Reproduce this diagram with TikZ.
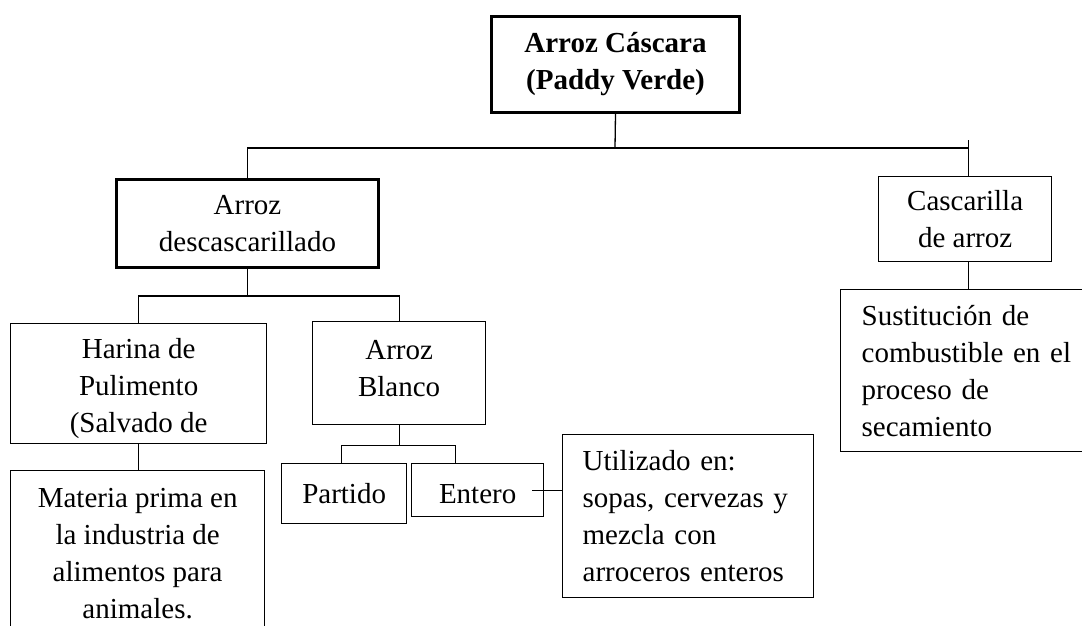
\documentclass[tikz,border=0pt]{standalone}
\usepackage{fontspec}
\setmainfont{Liberation Serif}
\usetikzlibrary{positioning,calc}

\begin{document}
\begin{tikzpicture}[x=1pt, y=-1pt, line width=1.3pt]
            \tikzstyle{caja}=[draw, line width=1.3pt, inner sep=0pt, anchor=north west, align=center, font=\fontsize{29}{37}\selectfont]
            \tikzstyle{gruesa}=[caja, line width=3pt]
            \tikzstyle{izq}=[caja, align=left, inner xsep=21pt]

            \useasboundingbox (0,0) rectangle (1082,625);
            \clip (0,0) rectangle (1082,625);

            % Cajas
            \node[gruesa, minimum width=248pt, minimum height=96pt, font=\fontsize{29}{37}\selectfont\bfseries] (cascara) at (490,15) {Arroz Cáscara\\(Paddy Verde)};
            \node[gruesa, minimum width=262pt, minimum height=88pt] (desc) at (115,178) {Arroz\\descascarillado};
            \node[caja, minimum width=173pt, minimum height=85pt] (casc) at (878,176) {Cascarilla\\de arroz};
            \node[izq, text width=222pt, minimum height=162pt] (sust) at (840,289) {Sustitución de\\combustible en el\\proceso de\\secamiento};
            \node[caja, minimum width=256pt, minimum height=120pt, text height=104pt] (harina) at (10,323) {Harina de\\Pulimento\\(Salvado de};
            \node[caja, minimum width=254pt, minimum height=166pt] (materia) at (10,470) {Materia prima en\\la industria de\\alimentos para\\animales.};
            \node[caja, minimum width=173pt, minimum height=103pt, text depth=10pt] (blanco) at (312,321) {Arroz\\Blanco};
            \node[caja, minimum width=125pt, minimum height=60pt] (partido) at (281,463) {Partido};
            \node[caja, minimum width=132pt, minimum height=53pt, text height=26pt] (entero) at (411,463) {Entero};
            \node[izq, text width=211pt, minimum height=163pt, inner xsep=20pt] (util) at (562,434) {Utilizado en:\\sopas, cervezas y\\mezcla con\\arroceros enteros};

            % Conexiones
            \coordinate (nudo1) at (615,148);
            \draw (cascara.south) -- (nudo1);
            \draw ([xshift=3pt]casc.north) -- ++(0,-36);
            \draw (desc.north) |- (nudo1) -| ([xshift=3pt]casc.north);
            \draw ([xshift=3pt]casc.south) -- ([xshift=3pt]casc.south |- sust.north);
            \draw (desc.south) -- ++(0,27) coordinate (nudo2);
            \draw (harina.north) |- (nudo2) -| (blanco.north);
            \draw (harina.south) -- (harina.south |- materia.north);
            \draw (blanco.south) -- ++(0,20) coordinate (nudo3);
            \draw ([xshift=-3pt]partido.north) |- (nudo3) -| ([xshift=-22pt]entero.north);
            \draw ([xshift=-12pt]entero.east) -- (entero.east -| util.west);
\end{tikzpicture}
\end{document}
